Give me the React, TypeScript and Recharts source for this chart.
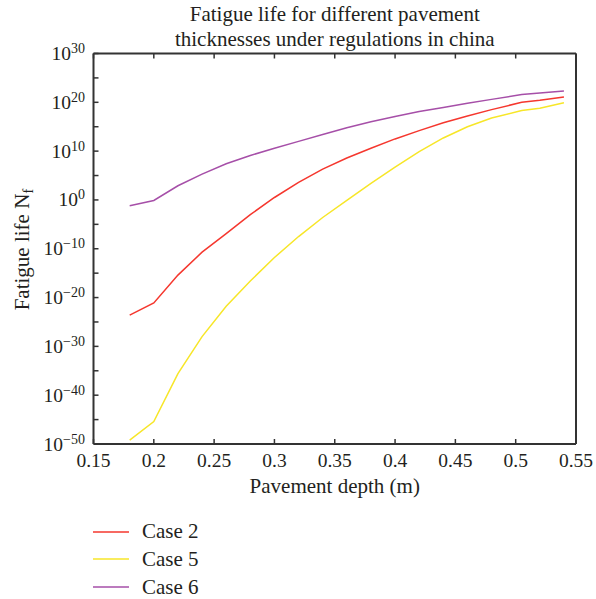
import { LineChart, Line, XAxis, YAxis } from 'recharts';

// Pavement depth (m)
const DEPTH = [0.18, 0.2, 0.22, 0.24, 0.26, 0.28, 0.3, 0.32, 0.34, 0.36, 0.38, 0.4, 0.42, 0.44, 0.46, 0.48, 0.505, 0.52, 0.54];

// log10 of fatigue life Nf per case
const CASE2 = [-23.6, -21.1, -15.4, -10.7, -6.9, -3.0, 0.5, 3.6, 6.3, 8.6, 10.6, 12.5, 14.2, 15.8, 17.2, 18.5, 20.0, 20.4, 21.1];
const CASE5 = [-49.2, -45.4, -35.6, -28.0, -21.8, -16.6, -11.8, -7.5, -3.6, -0.1, 3.4, 6.7, 9.9, 12.7, 15.0, 16.8, 18.3, 18.8, 19.9];
const CASE6 = [-1.2, -0.1, 2.9, 5.3, 7.4, 9.1, 10.6, 12.0, 13.4, 14.8, 16.0, 17.1, 18.1, 18.95, 19.8, 20.6, 21.6, 21.9, 22.3];

const X_TICKS = [0.15, 0.2, 0.25, 0.3, 0.35, 0.4, 0.45, 0.5, 0.55];
// exponents; every second one carries a label
const Y_TICKS = [-50, -45, -40, -35, -30, -25, -20, -15, -10, -5, 0, 5, 10, 15, 20, 25, 30];

const SERIES = [
  { key: 'case2', name: 'Case 2', color: '#f5372e' },
  { key: 'case5', name: 'Case 5', color: '#f7e628' },
  { key: 'case6', name: 'Case 6', color: '#a64fa8' },
];

const data = DEPTH.map((d, i) => ({ depth: d, case2: CASE2[i], case5: CASE5[i], case6: CASE6[i] }));

const FONT = "'Liberation Serif', 'Times New Roman', serif";
const INK = '#231f20';
const FRAME = '#333333';
const TICK = 5;

// tick marks are shifted by their own length so they point into the plot
const tickStyle = (dx: number, dy: number) => ({ stroke: FRAME, strokeWidth: 1.5, transform: `translate(${dx},${dy})` });

export default function App() {
  return (
    <div style={{ position: 'absolute', left: 0, top: 0, width: 596, height: 599, fontFamily: FONT, color: INK }}>
      <div style={{ position: 'absolute', left: 93.5, width: 482.5, top: 2, textAlign: 'center', fontSize: 21, lineHeight: '25px' }}>
        Fatigue life for different pavement
        <br />
        thicknesses under regulations in china
      </div>

      <LineChart width={596} height={599} data={data} margin={{ top: 52.5, right: 0, left: 0, bottom: 95 }}>
        <XAxis
          xAxisId="bottom"
          dataKey="depth"
          type="number"
          domain={[0.15, 0.55]}
          ticks={X_TICKS}
          height={60}
          stroke={FRAME}
          axisLine={{ stroke: FRAME, strokeWidth: 2 }}
          tickLine={tickStyle(0, -TICK)}
          tickSize={TICK}
          tickMargin={4.5}
          tick={{ fill: INK, fontSize: 19.5, fontFamily: FONT }}
          tickFormatter={(v: number) => String(v)}
        />
        <XAxis
          xAxisId="top"
          orientation="top"
          dataKey="depth"
          type="number"
          domain={[0.15, 0.55]}
          ticks={X_TICKS}
          height={1}
          stroke={FRAME}
          axisLine={{ stroke: FRAME, strokeWidth: 2 }}
          tickLine={tickStyle(0, TICK)}
          tickSize={TICK}
          tickFormatter={() => ''}
        />
        <YAxis
          yAxisId="left"
          type="number"
          domain={[-50, 30]}
          ticks={Y_TICKS}
          width={93.5}
          stroke={FRAME}
          axisLine={{ stroke: FRAME, strokeWidth: 2 }}
          tickLine={tickStyle(TICK, 0)}
          tickSize={TICK}
          tickMargin={3.5}
          tick={({ x, y, payload }: any) => {
            const v = payload.value as number;
            if (v % 10 !== 0) return <g />;
            return (
              <text x={x} y={y} dy={6.5} textAnchor="end" fontFamily={FONT} fontSize={19.5} fill={INK}>
                <tspan>10</tspan>
                <tspan dy={-7} fontSize={14}>{v < 0 ? `\u2212${-v}` : String(v)}</tspan>
              </text>
            );
          }}
        />
        <YAxis
          yAxisId="right"
          orientation="right"
          type="number"
          domain={[-50, 30]}
          ticks={Y_TICKS}
          width={20}
          stroke={FRAME}
          axisLine={{ stroke: FRAME, strokeWidth: 2 }}
          tickLine={tickStyle(-TICK, 0)}
          tickSize={TICK}
          tickFormatter={() => ''}
        />
        {SERIES.map((s) => (
          <Line
            key={s.key}
            xAxisId="bottom"
            yAxisId="left"
            type="linear"
            dataKey={s.key}
            name={s.name}
            stroke={s.color}
            strokeWidth={1.5}
            dot={false}
            isAnimationActive={false}
          />
        ))}
      </LineChart>

      <div style={{ position: 'absolute', left: 93.5, width: 482.5, top: 474.4, textAlign: 'center', fontSize: 21, lineHeight: '25px' }}>
        Pavement depth (m)
      </div>

      <div
        style={{
          position: 'absolute',
          left: 22 - 150,
          top: 249 - 12.5,
          width: 300,
          textAlign: 'center',
          fontSize: 21,
          lineHeight: '25px',
          transform: 'rotate(-90deg)',
          whiteSpace: 'nowrap',
        }}
      >
        Fatigue life N<span style={{ fontSize: '0.72em', verticalAlign: '-0.3em', lineHeight: 0 }}>f</span>
      </div>

      {SERIES.map((s, i) => (
        <div key={s.key} style={{ position: 'absolute', left: 93, top: 519 + i * 27.8, height: 25, display: 'flex', alignItems: 'center' }}>
          <svg width={36} height={4} style={{ display: 'block' }}>
            <line x1={0} y1={2} x2={36} y2={2} stroke={s.color} strokeWidth={1.5} />
          </svg>
          <span style={{ marginLeft: 13, fontSize: 21, lineHeight: '25px' }}>{s.name}</span>
        </div>
      ))}
    </div>
  );
}
